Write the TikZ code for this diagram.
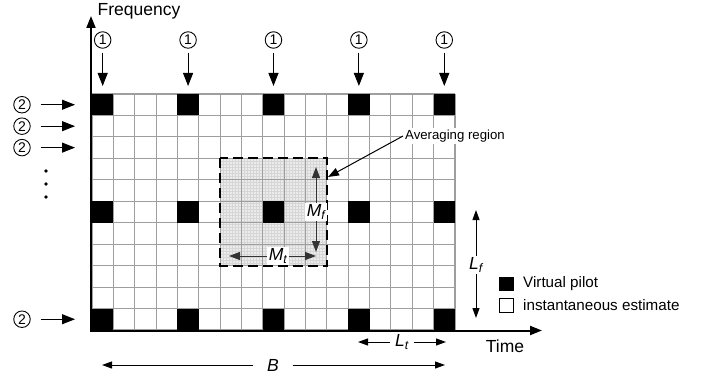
\documentclass[tikz,border=0pt]{standalone}
\usepackage{fontspec}
\setmainfont{Liberation Sans}
\usetikzlibrary{arrows.meta}
\begin{document}
\begin{tikzpicture}[x=1pt,y=-1pt,
  gridline/.style={draw=black!38, line width=1.1pt},
  fineline/.style={draw=black!16, line width=0.35pt},
  bigarrow/.style={-{Triangle[length=13pt,width=10pt]}, line width=1.1pt},
  medarrow/.style={-{Triangle[length=11pt,width=8pt]}, line width=1pt},
  smallarrow/.style={-{Triangle[length=10pt,width=7pt]}, line width=1pt},
  circ/.style={circle, draw, line width=0.9pt, minimum size=16.5pt, inner sep=0pt, font=\fontsize{14}{14}\selectfont},
  lbl/.style={font=\fontsize{17.5}{17.5}\selectfont, inner sep=1pt},
  mlbl/.style={font=\fontsize{17.5}{17.5}\selectfont\itshape, inner sep=1.5pt},
  legtext/.style={font=\fontsize{15.2}{15.2}\selectfont, inner sep=0pt, anchor=west},
  legbox/.style={draw, line width=0.8pt, minimum size=13.5pt, inner sep=0pt},
]
\useasboundingbox (0,0) rectangle (706,377);
\def\dx{21.35}
\def\dy{21.45}
% averaging region fill with fine texture
\fill[black!8] (220.1,158.35) rectangle (326.85,265.6);
\begin{scope}
  \clip (220.1,158.35) rectangle (326.85,265.6);
  \foreach \k in {0,...,36} {
    \draw[fineline] ({220.1+3*\k},158.35) -- ++(0,107.25);
    \draw[fineline] (220.1,{158.35+3*\k}) -- ++(106.75,0);
  }
\end{scope}
% main grid
\foreach \i in {0,...,17}
  \draw[gridline] ({92+\i*\dx},94) -- ({92+\i*\dx},330);
\foreach \j in {0,...,11}
  \draw[gridline] (92,{94+\j*\dy}) -- (455,{94+\j*\dy});
% virtual pilots
\foreach \i in {0,4,8,12,16}
  \foreach \j in {0,5,10}
    \fill ({92+\i*\dx},{94+\j*\dy}) rectangle ++(\dx,\dy);
% averaging region border
\draw[line width=2.2pt, dash pattern=on 10pt off 5pt] (220.1,158.35) rectangle (326.85,265.6);
% axes
\coordinate (ytop) at (91,16);
\coordinate (O) at (91,330.5);
\coordinate (xend) at (542,330.5);
\draw[line width=2pt, {Triangle[length=12pt,width=9pt]}-{Triangle[length=12pt,width=9pt]}] (ytop) -- (O) -- (xend);
\node[lbl] (freq) at (139,11) {Frequency};
\node[lbl] (time) at (505,346) {Time};
% circled 1 markers
\foreach \i [count=\n] in {0,4,8,12,16} {
  \node[circ] (c1\n) at ({92+(\i+0.5)*\dx},40) {1};
  \coordinate (t1\n) at ({92+(\i+0.5)*\dx},86);
  \draw[bigarrow, shorten <=4pt] (c1\n) -- (t1\n);
}
% circled 2 markers
\foreach \j [count=\n] in {0,1,2,10} {
  \node[circ] (c2\n) at (22,{94+(\j+0.5)*\dy}) {2};
  \coordinate (t2\n) at (75,{94+(\j+0.5)*\dy});
  \draw[bigarrow, shorten <=10pt] (c2\n) -- (t2\n);
}
% vertical dots
\fill (46,171) circle (1.8);
\fill (46,184) circle (1.8);
\fill (46,197) circle (1.8);
% M_f
\node[mlbl, fill=white] (mf) at (316,212) {M\textsubscript{f}};
\coordinate (mft) at (316,167);
\coordinate (mfb) at (316,252);
\draw[medarrow, black!80] (mf) -- (mft);
\draw[medarrow, black!80] (mf) -- (mfb);
% M_t
\node[mlbl, fill=white] (mt) at (278,256) {M\textsubscript{t}};
\coordinate (mtl) at (229,256);
\coordinate (mtr) at (316,256);
\draw[medarrow, black!80] (mt) -- (mtl);
\draw[medarrow, black!80] (mt) -- (mtr);
% averaging region label
\node[fill=white, inner sep=2pt, anchor=west, font=\fontsize{13.2}{13.2}\selectfont] (avg) at (403,136) {Averaging region};
\coordinate (avgtip) at (328,177);
\draw[medarrow] (avg.west) -- (avgtip);
% L_f
\node[mlbl] (lf) at (476,265) {L\textsubscript{f}};
\coordinate (lft) at (476,210);
\coordinate (lfb) at (476,318);
\draw[smallarrow] (lf) -- (lft);
\draw[smallarrow] (lf) -- (lfb);
% L_t
\node[mlbl] (lt) at (402,342) {L\textsubscript{t}};
\coordinate (ltl) at (358,342);
\coordinate (ltr) at (446,342);
\draw[smallarrow, shorten <=3pt] (lt) -- (ltl);
\draw[smallarrow, shorten <=3pt] (lt) -- (ltr);
% B
\node[mlbl] (b) at (273,365) {B};
\coordinate (bl) at (102,365);
\coordinate (br) at (445,365);
\draw[smallarrow, shorten <=12pt] (b) -- (bl);
\draw[smallarrow, shorten <=12pt] (b) -- (br);
% legend
\node[legbox, fill=black] (legp) at (506.5,284) {};
\node[legtext] (legptext) at (523,284) {Virtual pilot};
\node[legbox, fill=white] (lege) at (506.5,305.5) {};
\node[legtext] (legetext) at (523,305.5) {instantaneous estimate};
\end{tikzpicture}
\end{document}
